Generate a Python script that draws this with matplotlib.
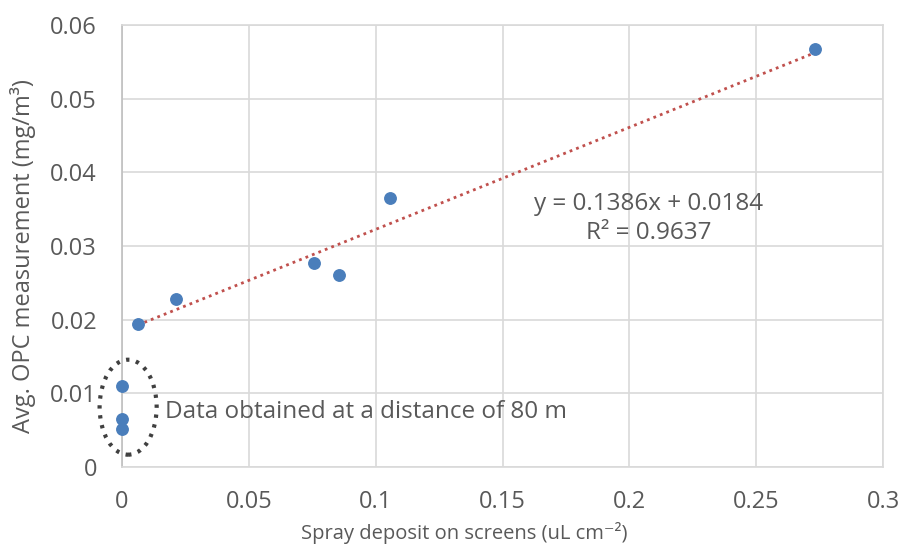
import matplotlib.pyplot as plt
import numpy as np
from matplotlib.patches import Ellipse

plt.rcParams['font.family'] = ['Open Sans', 'DejaVu Sans']

# spray deposit (uL cm-2) vs averaged OPC reading (mg/m3)
deposit = [0.0063, 0.0213, 0.0757, 0.0856, 0.1057, 0.2733]
opc = [0.0194, 0.0228, 0.0277, 0.0261, 0.0365, 0.0567]

# far-field samples at 80 m (no measurable deposit)
far_deposit = [0.0, 0.0, 0.0]
far_opc = [0.0110, 0.0065, 0.0052]

slope, intercept, r2 = 0.1386, 0.0184, 0.9637

x_ticks = [0, 0.05, 0.1, 0.15, 0.2, 0.25, 0.3]
y_ticks = [0, 0.01, 0.02, 0.03, 0.04, 0.05, 0.06]
x_labels = ['0', '0.05', '0.1', '0.15', '0.2', '0.25', '0.3']
y_labels = ['0', '0.01', '0.02', '0.03', '0.04', '0.05', '0.06']

txt = '#595959'
grid = '#d9d9d9'
blue = '#4a7ebb'
red = '#c0504d'

fig = plt.figure(figsize=(9.04, 5.46), dpi=100)
ax = fig.add_axes([0.135, 0.145, 0.842, 0.809])

# trendline over the fitted range
xl = np.array([min(deposit), max(deposit)])
ax.plot(xl, slope * xl + intercept, linestyle=(0, (1, 1.5)), color=red,
        linewidth=2, zorder=2)

ax.scatter(deposit, opc, s=68, color=blue, zorder=3, clip_on=False)
ax.scatter(far_deposit, far_opc, s=68, color=blue, zorder=3, clip_on=False)

ax.set_xlim(0, 0.3)
ax.set_ylim(0, 0.06)
ax.set_xticks(x_ticks)
ax.set_xticklabels(x_labels)
ax.set_yticks(y_ticks)
ax.set_yticklabels(y_labels)
ax.tick_params(axis='both', length=0, labelsize=17, labelcolor=txt)
ax.tick_params(axis='x', pad=17)
ax.tick_params(axis='y', pad=18)
ax.grid(True, color=grid, linewidth=1.2)
ax.set_axisbelow(True)
for side in ['top', 'right', 'bottom']:
    ax.spines[side].set_color(grid)
    ax.spines[side].set_linewidth(1.2)
ax.spines['left'].set_color('#bfbfbf')
ax.spines['left'].set_linewidth(1.2)

fig.text(0.514, 0.024, 'Spray deposit on screens (uL cm⁻²)', fontsize=14.5,
         color=txt, ha='center', va='center')
fig.text(0.025, 0.531, 'Avg. OPC measurement (mg/m³)', fontsize=17,
         color=txt, ha='center', va='center', rotation=90)

ax.text(0.2074, 0.0337, 'y = 0.1386x + 0.0184\nR² = 0.9637',
        ha='center', va='center', fontsize=17.5, color=txt, linespacing=1.3)

# dotted ellipse around the 80 m samples
ax.add_patch(Ellipse((0.0024, 0.0081), 0.0225, 0.0129, fill=False,
                     edgecolor='#404040', linestyle=(0, (0.8, 1.6)),
                     linewidth=3, clip_on=False, zorder=4))
ax.text(0.0168, 0.0075, 'Data obtained at a distance of 80 m',
        ha='left', va='center', fontsize=17.5, color=txt)

fig.savefig('out.png', dpi=100)
